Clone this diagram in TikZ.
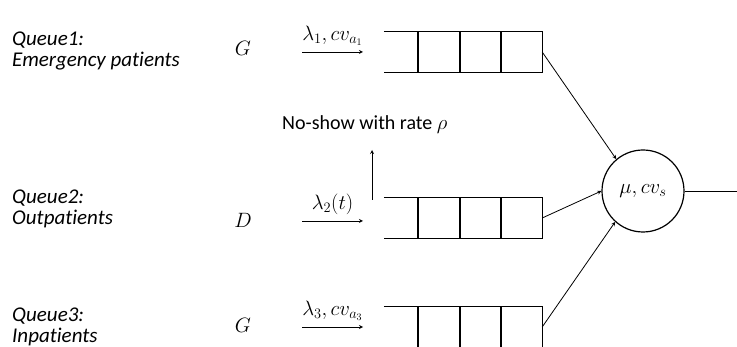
\documentclass[tikz,border=0pt]{standalone}
\usepackage{fontspec}
\setmainfont{Carlito}[Ligatures=NoCommon]
\begin{document}
\begin{tikzpicture}[x=1pt,y=-1pt,>=stealth,
  lbl/.style={font=\fontsize{21}{21}\selectfont\itshape,align=left,anchor=west,inner sep=0pt},
  mth/.style={font=\fontsize{20}{22}\selectfont,inner sep=1pt},
  buffer/.style={minimum width=158pt,minimum height=41pt,inner sep=0pt},
  qline/.style={line width=1.4pt},
  flow/.style={->,line width=0.8pt}]
\useasboundingbox (0,0) rectangle (737,347);
\clip (0,0) rectangle (737,347);
% queue buffers
\foreach \n/\y in {1/52,2/218,3/327} {
  \node[buffer] (b\n) at (463,\y) {};
  \draw[qline] (b\n.north west) -- (b\n.north east) -- (b\n.south east) -- (b\n.south west);
  \foreach \x in {418,460,501} \draw[qline] (\x,\y-20.5) -- (\x,\y+20.5);
}
\node[draw,circle,line width=1.2pt,minimum size=82pt,inner sep=0pt,mth,font=\fontsize{22}{24}\selectfont] (srv) at (643,191) {$\mu,cv_s$};
\coordinate (exit) at (737,191);
\draw[flow] (b1.east) -- (srv.130);
\draw[flow] (b2.east) -- (srv.180);
\draw[flow] (b3.east) -- (srv.228);
\draw[line width=0.8pt] (srv.east) -- (exit);
% labels on the left
\node[lbl] (q1) at (12,50.5) {Queue1:\\Emergency patients};
\node[lbl] (q2) at (12,209) {Queue2:\\Outpatients};
\node[lbl] (q3) at (12,327) {Queue3:\\Inpatients};
\node[mth] (g1) at (243,48) {$G$};
\node[mth] (g2) at (243,220) {$D$};
\node[mth] (g3) at (243,325) {$G$};
% arrivals
\coordinate (in1) at (302,52); \coordinate (to1) at (363,52);
\coordinate (in2) at (302,221); \coordinate (to2) at (363,221);
\coordinate (in3) at (302,327); \coordinate (to3) at (363,327);
\draw[flow] (in1) -- (to1) node[midway,above=5pt,mth] {$\lambda_1,cv_{a_1}$};
\draw[flow] (in2) -- (to2) node[midway,above=5pt,mth] {$\lambda_2(t)$};
\draw[flow] (in3) -- (to3) node[midway,above=5pt,mth] {$\lambda_3,cv_{a_3}$};
% no-show
\node[font=\fontsize{20}{22}\selectfont,anchor=west,inner sep=0pt] (ns) at (282,125) {No-show with rate $\rho$};
\coordinate (ns0) at (372,200); \coordinate (ns1) at (372,150);
\draw[flow] (ns0) -- (ns1);
\end{tikzpicture}
\end{document}
